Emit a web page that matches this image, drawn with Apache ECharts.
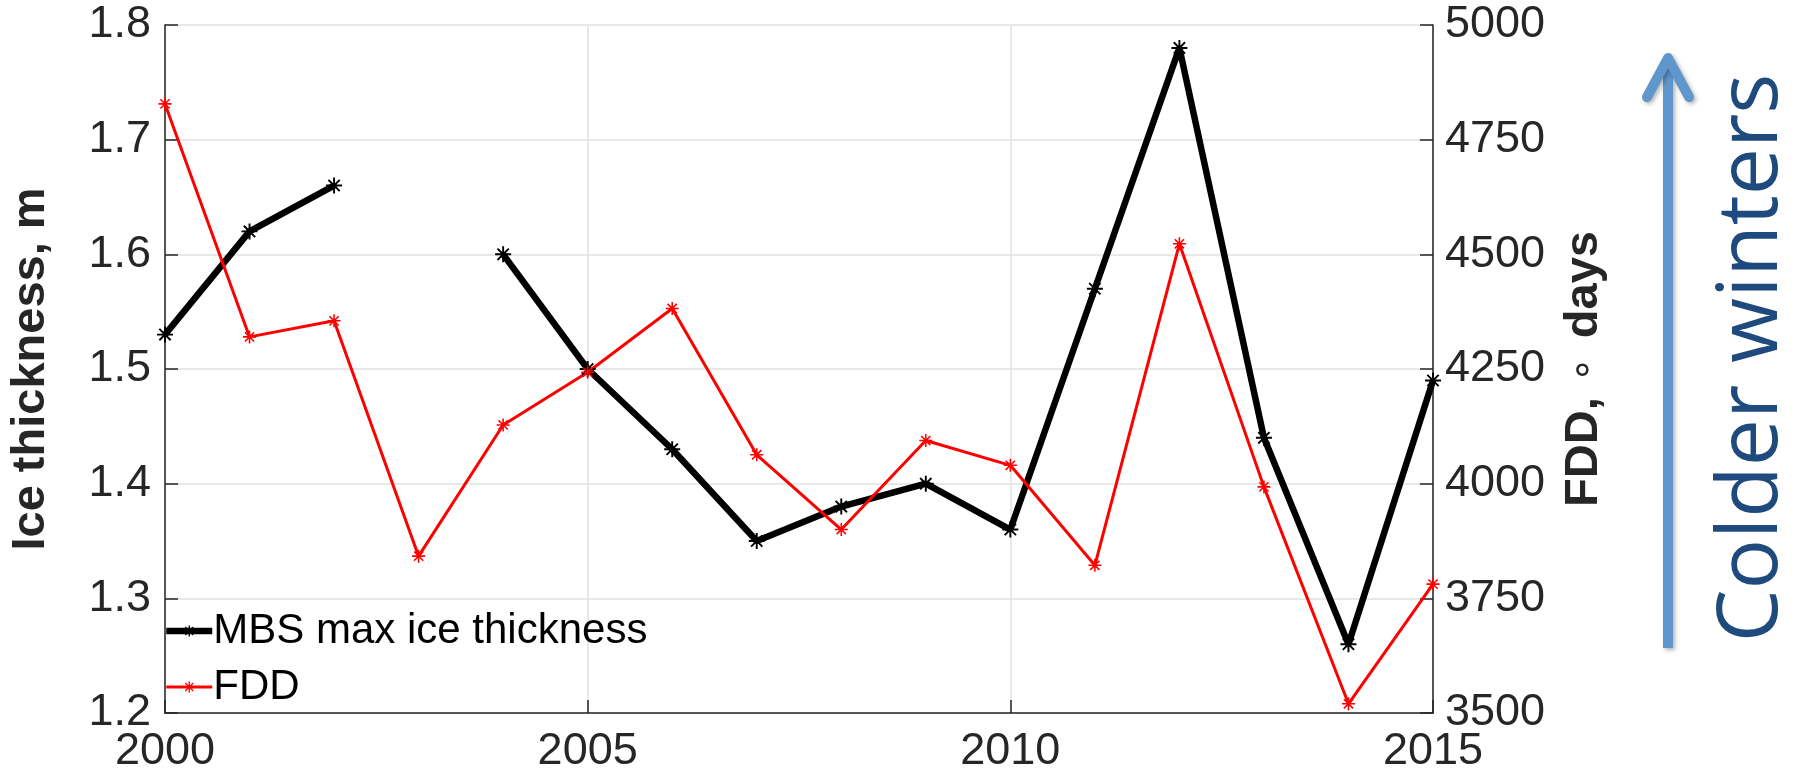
<!DOCTYPE html>
<html>
<head>
<meta charset="utf-8">
<script src="https://cdn.jsdelivr.net/npm/echarts@6/dist/echarts.min.js"></script>
<style>
  html, body { margin: 0; padding: 0; background: #fff; }
  #chart { width: 1802px; height: 775px; }
</style>
</head>
<body>
<div id="chart"></div>
<script>
// Years on the x axis
const years = [2000, 2001, 2002, 2003, 2004, 2005, 2006, 2007, 2008, 2009, 2010, 2011, 2012, 2013, 2014, 2015];
// MBS max ice thickness (m); no value for 2003
const iceThickness = [1.53, 1.62, 1.66, null, 1.60, 1.50, 1.43, 1.35, 1.38, 1.40, 1.36, 1.57, 1.78, 1.44, 1.26, 1.49];
// Freezing degree days
const fdd = [4828, 4320, 4355, 3842, 4128, 4243, 4382, 4063, 3900, 4094, 4040, 3822, 4523, 3993, 3520, 3781];

const seriesNames = ['MBS max ice thickness', 'FDD'];
const leftAxisName = 'Ice thickness, m';
const sideNote = 'Colder winters';

// MATLAB-like '*' marker, built from four thin bars
const asterisk = 'path://M-1.2,-10L1.2,-10L1.2,10L-1.2,10Z M-10,-1.2L10,-1.2L10,1.2L-10,1.2Z ' +
  'M-7.92,-6.22L-6.22,-7.92L7.92,6.22L6.22,7.92Z M6.22,-7.92L7.92,-6.22L-6.22,7.92L-7.92,6.22Z';

const axisColor = '#262626';
const font = '"Liberation Sans", Arial, Helvetica, sans-serif';

const chart = echarts.init(document.getElementById('chart'));

const option = {
  animation: false,
  grid: { left: 143, right: 369, top: 25, bottom: 62 },
  legend: {
    orient: 'vertical',
    left: 158,
    top: 603,
    itemWidth: 46,
    itemHeight: 14,
    itemGap: 10,
    data: [
      { name: seriesNames[0], lineStyle: { width: 6.5 } },
      { name: seriesNames[1], lineStyle: { width: 3 } }
    ],
    textStyle: { fontFamily: font, fontSize: 42, color: '#000', lineHeight: 46, padding: [0, 0, 0, -4] }
  },
  xAxis: {
    type: 'value',
    min: 2000,
    max: 2015,
    interval: 5,
    axisLine: { lineStyle: { color: axisColor, width: 1.5 } },
    axisTick: { inside: true, length: 13, lineStyle: { color: axisColor, width: 1.5 } },
    axisLabel: { fontFamily: font, fontSize: 45, color: axisColor, margin: 16, formatter: v => String(v) },
    splitLine: { show: true, lineStyle: { color: '#e0e0e0', width: 1.5 } }
  },
  yAxis: [
    {
      type: 'value',
      min: 1.2,
      max: 1.8,
      interval: 0.1,
      position: 'left',
      name: leftAxisName,
      nameLocation: 'middle',
      nameRotate: 90,
      nameGap: 110,
      nameTextStyle: { fontFamily: font, fontSize: 47, fontWeight: 'bold', color: axisColor },
      axisLine: { show: true, lineStyle: { color: axisColor, width: 1.5 } },
      axisTick: { show: true, inside: true, length: 13, lineStyle: { color: axisColor, width: 1.5 } },
      axisLabel: { fontFamily: font, fontSize: 45, color: axisColor, margin: 14, formatter: v => v.toFixed(1) },
      splitLine: { show: true, lineStyle: { color: '#e0e0e0', width: 1.5 } }
    },
    {
      type: 'value',
      min: 3500,
      max: 5000,
      interval: 250,
      position: 'right',
      name: '{b|FDD, }{d|\u2218}{b| days}',
      nameLocation: 'middle',
      nameRotate: 90,
      nameGap: 128,
      nameTextStyle: {
        fontFamily: font, fontSize: 47, fontWeight: 'bold', color: axisColor,
        rich: {
          b: { fontFamily: font, fontSize: 47, fontWeight: 'bold', color: axisColor },
          d: { fontFamily: '"DejaVu Sans", sans-serif', fontSize: 40, fontWeight: 'normal', color: axisColor, padding: [0, 6, 0, 2] }
        }
      },
      axisLine: { show: true, lineStyle: { color: axisColor, width: 1.5 } },
      axisTick: { show: true, inside: true, length: 13, lineStyle: { color: axisColor, width: 1.5 } },
      axisLabel: { fontFamily: font, fontSize: 45, color: axisColor, margin: 12, formatter: v => String(v) },
      splitLine: { show: false }
    }
  ],
  series: [
    {
      name: seriesNames[0],
      type: 'line',
      yAxisIndex: 0,
      data: years.map((y, i) => [y, iceThickness[i]]),
      connectNulls: false,
      symbol: asterisk,
      symbolSize: 16,
      showAllSymbol: true,
      lineStyle: { color: '#000', width: 6.5 },
      itemStyle: { color: '#000' }
    },
    {
      name: seriesNames[1],
      type: 'line',
      yAxisIndex: 1,
      data: years.map((y, i) => [y, fdd[i]]),
      symbol: asterisk,
      symbolSize: 13,
      showAllSymbol: true,
      lineStyle: { color: '#ff0000', width: 3 },
      itemStyle: { color: '#ff0000' }
    }
  ],
  graphic: [
    {
      type: 'polyline',
      shape: { points: [[1668, 648], [1668, 62]] },
      style: {
        stroke: '#5f96cb', lineWidth: 10, lineCap: 'butt', fill: null,
        shadowBlur: 4, shadowColor: 'rgba(0,0,0,0.3)', shadowOffsetX: 2, shadowOffsetY: 2
      }
    },
    {
      type: 'polyline',
      shape: { points: [[1647, 97], [1668, 58], [1689, 97]] },
      style: {
        stroke: '#5f96cb', lineWidth: 10, lineCap: 'round', lineJoin: 'round', fill: null,
        shadowBlur: 4, shadowColor: 'rgba(0,0,0,0.3)', shadowOffsetX: 2, shadowOffsetY: 2
      }
    },
    {
      type: 'text',
      x: 1753,
      y: 358,
      rotation: Math.PI / 2,
      style: {
        text: sideNote,
        fill: '#1f4a7e',
        font: '84px "Open Sans", "Noto Sans", sans-serif',
        align: 'center',
        verticalAlign: 'middle'
      }
    }
  ]
};

chart.setOption(option);
</script>
</body>
</html>
